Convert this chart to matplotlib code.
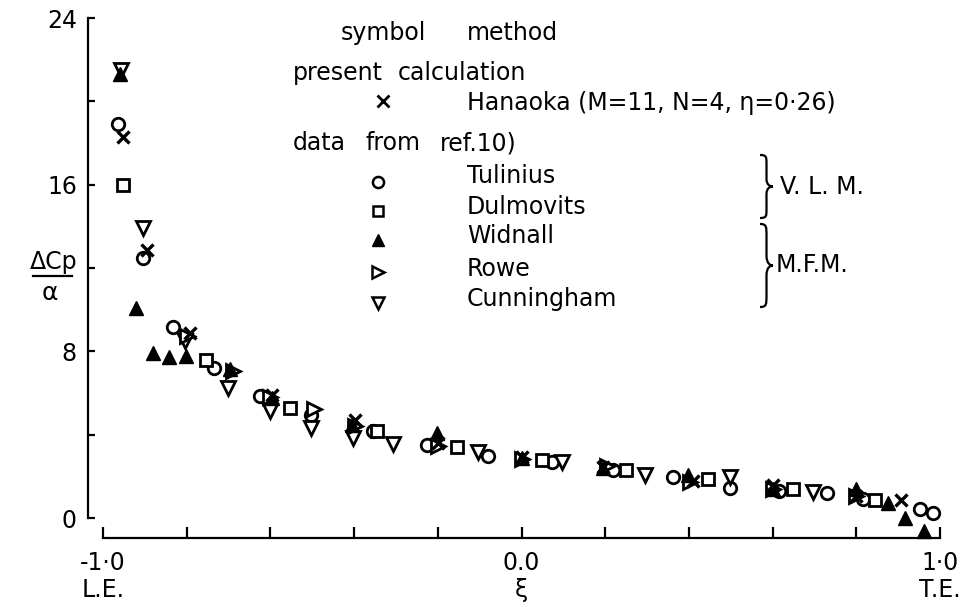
import matplotlib
matplotlib.use("Agg")
import matplotlib.pyplot as plt
import numpy as np
from matplotlib.patches import PathPatch
from matplotlib.path import Path

W, H = 964, 607

# chordwise station xi and pressure jump dCp/alpha, one pair of lists per method
hanaoka_xi = [-0.952, -0.895, -0.792, -0.597, -0.397, -0.2, 0.0, 0.195, 0.409, 0.602, 0.8, 0.906]
hanaoka_cp = [18.3, 12.85, 8.9, 5.9, 4.7, 3.6, 2.95, 2.45, 1.8, 1.6, 1.05, 0.85]

tulinius_xi = [-0.964, -0.904, -0.833, -0.735, -0.625, -0.503, -0.355, -0.226, -0.08,
               0.073, 0.219, 0.362, 0.498, 0.615, 0.73, 0.816, 0.952, 0.983]
tulinius_cp = [18.9, 12.5, 9.15, 7.2, 5.85, 4.95, 4.2, 3.5, 3.0,
               2.7, 2.3, 1.95, 1.45, 1.3, 1.2, 0.9, 0.45, 0.25]

dulmovits_xi = [-0.952, -0.754, -0.553, -0.345, -0.154, 0.049, 0.25, 0.446, 0.649, 0.845]
dulmovits_cp = [16.0, 7.6, 5.3, 4.2, 3.4, 2.8, 2.3, 1.85, 1.4, 0.85]

widnall_xi = [-0.959, -0.921, -0.88, -0.842, -0.802, -0.697, -0.597, -0.406, -0.203,
              0.0, 0.195, 0.398, 0.6, 0.8, 0.876, 0.917, 0.962]
widnall_cp = [21.3, 10.1, 7.9, 7.75, 7.8, 7.15, 5.75, 4.45, 4.1,
              2.9, 2.4, 2.05, 1.4, 1.4, 0.7, 0.0, -0.6]

rowe_xi = [-0.8, -0.69, -0.6, -0.495, -0.397, -0.2, 0.0, 0.205, 0.403, 0.6, 0.8]
rowe_cp = [8.75, 7.05, 5.8, 5.25, 4.4, 3.45, 2.85, 2.5, 1.75, 1.4, 1.05]

cunningham_xi = [-0.957, -0.904, -0.804, -0.701, -0.601, -0.503, -0.402, -0.306,
                 -0.105, 0.097, 0.295, 0.498, 0.697]
cunningham_cp = [21.5, 13.9, 8.5, 6.25, 5.15, 4.3, 3.85, 3.55,
                 3.15, 2.7, 2.05, 1.95, 1.25]

x_ticks = [-1.0, -0.8, -0.6, -0.4, -0.2, 0.0, 0.2, 0.4, 0.6, 0.8, 1.0]
x_tick_labels = ["-1·0\nL.E.", "", "", "", "", "0.0\nξ", "", "", "", "", "1·0\nT.E."]
y_ticks = [0, 4, 8, 12, 16, 20, 24]
y_tick_labels = ["0", "", "8", "", "16", "", "24"]

methods = ["Tulinius", "Dulmovits", "Widnall", "Rowe", "Cunningham"]

INK = "black"
plt.rcParams["font.family"] = "DejaVu Sans"

fig = plt.figure(figsize=(W / 100, H / 100), dpi=100)
ax = fig.add_axes([88 / W, 1 - 538 / H, (940 - 88) / W, (538 - 18) / H])


def fx(px):
    return px / W


def fy(py):
    return 1 - py / H


open_style = dict(linestyle="none", markerfacecolor="white", markeredgecolor=INK,
                  markeredgewidth=2.0, clip_on=False)

ax.plot(tulinius_xi, tulinius_cp, marker="o", markersize=9, **open_style)
ax.plot(dulmovits_xi, dulmovits_cp, marker="s", markersize=8, **open_style)
ax.plot(cunningham_xi, cunningham_cp, marker="v", markersize=9.5, **open_style)
ax.plot(rowe_xi, rowe_cp, marker=">", markersize=9.5, **open_style)
ax.plot(widnall_xi, widnall_cp, linestyle="none", marker="^", markersize=10.5,
        color=INK, clip_on=False)
ax.plot(hanaoka_xi, hanaoka_cp, linestyle="none", marker="x", markersize=9,
        markeredgewidth=2.4, color=INK, clip_on=False)

ax.set_xlim(-1.036, 1.0)
ax.set_ylim(-0.96, 24.0)
for side in ["top", "right"]:
    ax.spines[side].set_visible(False)
ax.spines["left"].set_bounds(0, 24)
ax.spines["bottom"].set_bounds(-1, 1)
for side in ["left", "bottom"]:
    ax.spines[side].set_linewidth(1.6)

ax.set_xticks(x_ticks)
ax.set_xticklabels(x_tick_labels, fontsize=17, linespacing=1.2)
ax.set_yticks(y_ticks)
ax.set_yticklabels(y_tick_labels, fontsize=17)
ax.tick_params(axis="x", direction="in", length=8, width=1.6, pad=9)
ax.tick_params(axis="y", direction="in", length=5, width=1.6, pad=8)

# stacked y label: dCp over alpha
fig.text(fx(54), fy(262), "ΔCp", fontsize=17, ha="center", va="center")
fig.add_artist(plt.Line2D([fx(33), fx(72)], [fy(276), fy(276)], color=INK, lw=1.6))
fig.text(fx(50), fy(293), "α", fontsize=18, ha="center", va="center")

# key block
txt = dict(fontsize=17, va="baseline", color=INK)
fig.text(fx(341), fy(40), "symbol", **txt)
fig.text(fx(467), fy(40), "method", **txt)
fig.text(fx(293), fy(80), "present", **txt)
fig.text(fx(398), fy(80), "calculation", **txt)
fig.text(fx(467), fy(110), "Hanaoka (M=11, N=4, η=0·26)", **txt)
fig.text(fx(293), fy(150), "data", **txt)
fig.text(fx(366), fy(150), "from", **txt)
fig.text(fx(440), fy(150), "ref.10)", **txt)

ax.plot([fx(383)], [fy(101)], marker="x", markersize=8, markeredgewidth=2.0,
        color=INK, transform=fig.transFigure, clip_on=False)

key_markers = ["o", "s", "^", ">", "v"]
key_marker_y = [182, 211, 240, 272, 303]
key_text_y = [183, 214, 243, 276, 306]
for name, m, my, ty in zip(methods, key_markers, key_marker_y, key_text_y):
    if m == "^":
        style = dict(color=INK)
    else:
        style = dict(markerfacecolor="white", markeredgecolor=INK, markeredgewidth=1.8)
    ax.plot([fx(378)], [fy(my)], marker=m, markersize=8 if m != "s" else 7,
            linestyle="none", transform=fig.transFigure, clip_on=False, **style)
    fig.text(fx(467), fy(ty), name, **txt)


def brace(x0, top, bot, w):
    h = bot - top
    mid = (top + bot) / 2
    xm = x0 + w * 0.5
    pts = [
        (x0, top),
        (xm, top), (xm, top + 0.03 * h), (xm, top + 0.14 * h),
        (xm, mid - 0.12 * h),
        (xm, mid - 0.02 * h), (x0 + 0.8 * w, mid), (x0 + w, mid),
        (x0 + 0.8 * w, mid), (xm, mid + 0.02 * h), (xm, mid + 0.12 * h),
        (xm, bot - 0.14 * h),
        (xm, bot - 0.03 * h), (xm, bot), (x0, bot),
    ]
    codes = ([Path.MOVETO] + [Path.CURVE4] * 3 + [Path.LINETO] + [Path.CURVE4] * 6
             + [Path.LINETO] + [Path.CURVE4] * 3)
    verts = [(fx(px), fy(py)) for px, py in pts]
    fig.add_artist(PathPatch(Path(verts, codes), fill=False, lw=1.6, color=INK,
                             transform=fig.transFigure))


brace(760, 155, 218, 13)
brace(760, 224, 307, 13)
fig.text(fx(780), fy(194), "V. L. M.", **txt)
fig.text(fx(776), fy(272), "M.F.M.", **txt)

fig.savefig("out.png", dpi=100)
